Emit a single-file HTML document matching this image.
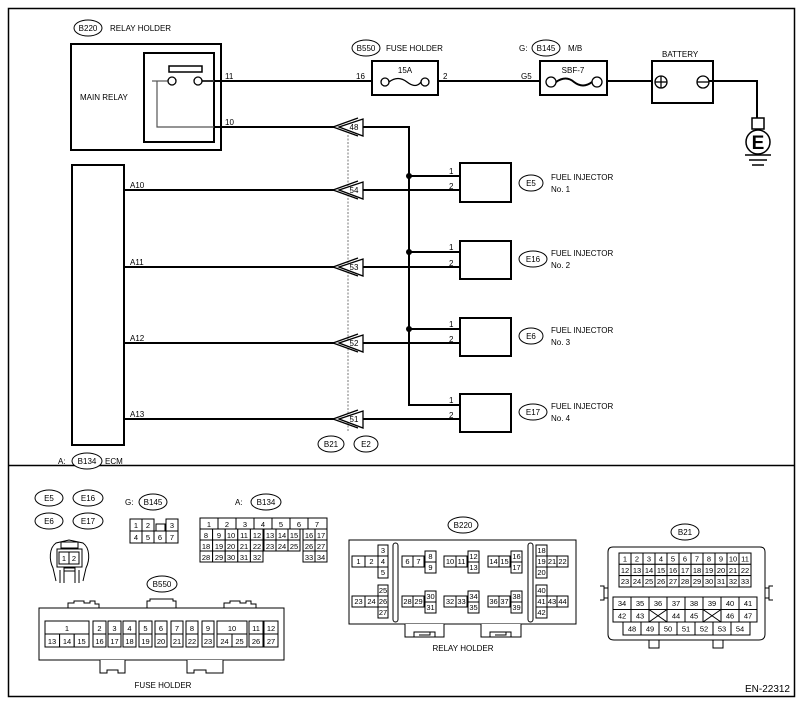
<!DOCTYPE html>
<html><head><meta charset="utf-8"><style>
html,body{margin:0;padding:0;background:#fff}
svg{display:block}
text{font-family:"Liberation Sans",Arial,sans-serif;fill:#000}
.s{font-size:8px}
.g{font-size:7.5px;text-anchor:middle}
.c rect{fill:#fff;stroke:#000;stroke-width:1}
</style></head><body>
<svg width="803" height="704" viewBox="0 0 803 704" xmlns="http://www.w3.org/2000/svg">
<rect x="8.5" y="8.5" width="786" height="688" fill="none" stroke="#000" stroke-width="1.5"/>
<line x1="8" y1="465.5" x2="795" y2="465.5" stroke="#000" stroke-width="1.5"/>

<g fill="none" stroke="#000" stroke-width="2">
<!-- main relay -->
<rect x="71" y="44" width="150" height="106"/>
<rect x="144" y="53" width="70" height="89"/>
<rect x="169" y="66" width="33" height="6" stroke-width="1.5"/>
<!-- wires -->
<line x1="202" y1="81" x2="372" y2="81"/>
<line x1="438" y1="81" x2="540" y2="81"/>
<line x1="607" y1="81" x2="652" y2="81"/>
<polyline points="707,81 757,81 757,118"/>
<line x1="214" y1="127" x2="335" y2="127"/>
<polyline points="363,127 409,127 409,405 460,405"/>
<line x1="409" y1="176" x2="460" y2="176"/>
<line x1="409" y1="252" x2="460" y2="252"/>
<line x1="409" y1="329" x2="460" y2="329"/>
<line x1="124" y1="190" x2="335" y2="190"/><line x1="363" y1="190" x2="460" y2="190"/>
<line x1="124" y1="267" x2="335" y2="267"/><line x1="363" y1="267" x2="460" y2="267"/>
<line x1="124" y1="343" x2="335" y2="343"/><line x1="363" y1="343" x2="460" y2="343"/>
<line x1="124" y1="419" x2="335" y2="419"/><line x1="363" y1="419" x2="460" y2="419"/>
<!-- fuse boxes -->
<rect x="372" y="61" width="66" height="34"/>
<rect x="540" y="61" width="67" height="34"/>
<rect x="652" y="61" width="61" height="42"/>
<!-- ECM -->
<rect x="72" y="165" width="52" height="280"/>
<!-- injectors -->
<rect x="460" y="163" width="51" height="39"/>
<rect x="460" y="241" width="51" height="38"/>
<rect x="460" y="318" width="51" height="38"/>
<rect x="460" y="394" width="51" height="38"/>
</g>
<polyline points="157,81 157,127 214,127" fill="none" stroke="#555" stroke-width="1.2"/>
<line x1="152" y1="81" x2="168" y2="81" stroke="#555" stroke-width="1.2"/>
<line x1="202" y1="81" x2="214" y2="81" stroke="#555" stroke-width="1.2"/>
<g fill="#fff" stroke="#000" stroke-width="1.3">
<circle cx="172" cy="81" r="4"/><circle cx="198" cy="81" r="4"/>
<circle cx="385" cy="82" r="4"/><circle cx="425" cy="82" r="4"/>
<circle cx="551" cy="82" r="5"/><circle cx="597" cy="82" r="5"/>
<circle cx="661" cy="82" r="6"/><circle cx="703" cy="82" r="6"/>
</g>
<path d="M389,82 q9,-7 18,0 q9,7 14,0" fill="none" stroke="#000" stroke-width="1.3"/>
<path d="M556,82 q10,-7 18,0 q9,7 18,0" fill="none" stroke="#000" stroke-width="2"/>
<line x1="655" y1="82" x2="667" y2="82" stroke="#000" stroke-width="1.3"/><line x1="661" y1="76" x2="661" y2="88" stroke="#000" stroke-width="1.3"/>
<line x1="697" y1="82" x2="709" y2="82" stroke="#000" stroke-width="1.3"/>
<!-- ground -->
<rect x="752" y="118" width="12" height="11" fill="#fff" stroke="#000" stroke-width="1.5"/>
<circle cx="758" cy="142" r="12" fill="#fff" stroke="#000" stroke-width="1.5"/>
<text x="758" y="149" font-size="19" font-weight="bold" text-anchor="middle">E</text>
<g stroke="#000" stroke-width="1.5"><line x1="745" y1="155" x2="771" y2="155"/><line x1="749" y1="160" x2="767" y2="160"/><line x1="752" y1="165" x2="764" y2="165"/></g>
<!-- dots -->
<g fill="#000"><circle cx="409" cy="176" r="3"/><circle cx="409" cy="252" r="3"/><circle cx="409" cy="329" r="3"/></g>
<!-- dashed -->
<line x1="348" y1="135" x2="348" y2="432" stroke="#777" stroke-width="1" stroke-dasharray="2,1.5"/>
<!-- chevrons -->
<g fill="#fff" stroke="#000" stroke-width="1.3">
<g transform="translate(0,127)"><polyline points="358,-9 333,0 358,9" fill="none"/><polygon points="339,0 363,-8 363,9"/></g>
<g transform="translate(0,190)"><polyline points="358,-9 333,0 358,9" fill="none"/><polygon points="339,0 363,-8 363,9"/></g>
<g transform="translate(0,267)"><polyline points="358,-9 333,0 358,9" fill="none"/><polygon points="339,0 363,-8 363,9"/></g>
<g transform="translate(0,343)"><polyline points="358,-9 333,0 358,9" fill="none"/><polygon points="339,0 363,-8 363,9"/></g>
<g transform="translate(0,419)"><polyline points="358,-9 333,0 358,9" fill="none"/><polygon points="339,0 363,-8 363,9"/></g>
</g>
<g class="s" font-size="8">
<text x="354" y="130" text-anchor="middle">48</text>
<text x="354" y="193" text-anchor="middle">54</text>
<text x="354" y="270" text-anchor="middle">53</text>
<text x="354" y="346" text-anchor="middle">52</text>
<text x="354" y="422" text-anchor="middle">51</text>
</g>
<!-- ovals -->
<g fill="#fff" stroke="#000" stroke-width="1">
<ellipse cx="88" cy="28" rx="14" ry="8"/>
<ellipse cx="366" cy="48" rx="14" ry="8"/>
<ellipse cx="546" cy="48" rx="14" ry="8"/>
<ellipse cx="531" cy="183" rx="12" ry="8"/>
<ellipse cx="533" cy="259" rx="14" ry="8"/>
<ellipse cx="531" cy="336" rx="12" ry="8"/>
<ellipse cx="533" cy="412" rx="14" ry="8"/>
<ellipse cx="87" cy="461" rx="15" ry="8"/>
<ellipse cx="331" cy="444" rx="13" ry="8"/>
<ellipse cx="366" cy="444" rx="12" ry="8"/>
</g>
<g class="s">
<text x="88" y="31" text-anchor="middle">B220</text><text x="110" y="31">RELAY HOLDER</text>
<text x="366" y="51" text-anchor="middle">B550</text><text x="386" y="51">FUSE HOLDER</text>
<text x="519" y="51">G:</text><text x="546" y="51" text-anchor="middle">B145</text><text x="568" y="51">M/B</text>
<text x="662" y="57">BATTERY</text>
<text x="405" y="73" text-anchor="middle">15A</text>
<text x="573" y="73" text-anchor="middle">SBF-7</text>
<text x="80" y="100">MAIN RELAY</text>
<text x="225" y="79">11</text><text x="356" y="79">16</text><text x="443" y="79">2</text><text x="521" y="79">G5</text>
<text x="225" y="125">10</text>
<text x="130" y="188">A10</text><text x="130" y="265">A11</text><text x="130" y="341">A12</text><text x="130" y="417">A13</text>
<text x="449" y="174">1</text><text x="449" y="189">2</text>
<text x="449" y="250">1</text><text x="449" y="266">2</text>
<text x="449" y="327">1</text><text x="449" y="342">2</text>
<text x="449" y="403">1</text><text x="449" y="418">2</text>
<text x="531" y="186" text-anchor="middle">E5</text><text x="551" y="180">FUEL INJECTOR</text><text x="551" y="192">No. 1</text>
<text x="533" y="262" text-anchor="middle">E16</text><text x="551" y="256">FUEL INJECTOR</text><text x="551" y="268">No. 2</text>
<text x="531" y="339" text-anchor="middle">E6</text><text x="551" y="333">FUEL INJECTOR</text><text x="551" y="345">No. 3</text>
<text x="533" y="415" text-anchor="middle">E17</text><text x="551" y="409">FUEL INJECTOR</text><text x="551" y="421">No. 4</text>
<text x="58" y="464">A:</text><text x="87" y="464" text-anchor="middle">B134</text><text x="105" y="464">ECM</text>
<text x="331" y="447" text-anchor="middle">B21</text><text x="366" y="447" text-anchor="middle">E2</text>
</g>

<!-- ===== bottom ===== -->
<g fill="#fff" stroke="#000" stroke-width="1">
<ellipse cx="49" cy="498" rx="14" ry="8"/><ellipse cx="88" cy="498" rx="15" ry="8"/>
<ellipse cx="49" cy="521" rx="14" ry="8"/><ellipse cx="88" cy="521" rx="15" ry="8"/>
<ellipse cx="153" cy="502" rx="14" ry="8"/>
<ellipse cx="266" cy="502" rx="15" ry="8"/>
<ellipse cx="162" cy="584" rx="15" ry="8"/>
<ellipse cx="463" cy="525" rx="15" ry="8"/>
<ellipse cx="685" cy="532" rx="14" ry="8"/>
</g>
<g class="s">
<text x="49" y="501" text-anchor="middle">E5</text><text x="88" y="501" text-anchor="middle">E16</text>
<text x="49" y="524" text-anchor="middle">E6</text><text x="88" y="524" text-anchor="middle">E17</text>
<text x="125" y="505">G:</text><text x="153" y="505" text-anchor="middle">B145</text>
<text x="235" y="505">A:</text><text x="266" y="505" text-anchor="middle">B134</text>
<text x="162" y="587" text-anchor="middle">B550</text>
<text x="463" y="528" text-anchor="middle">B220</text>
<text x="685" y="535" text-anchor="middle">B21</text>
<text x="163" y="688" text-anchor="middle">FUSE HOLDER</text>
<text x="463" y="651" text-anchor="middle">RELAY HOLDER</text>
<text x="790" y="692" text-anchor="end" font-size="10">EN-22312</text>
</g>

<!-- injector connector -->
<g fill="none" stroke="#000" stroke-width="1">
<path d="M56,581 L53,568 C49,560 49,548 56,543 L69,540 L83,543 C90,548 90,560 86,568 L83,581"/>
<path d="M60,583 L60,570 M79,583 L79,570 M64,583 L64,570 M75,583 L75,570"/>
<rect x="61" y="542" width="17" height="6"/>
<rect x="57" y="549" width="25" height="18"/>
<rect x="64" y="568" width="11" height="3"/>
</g>
<g class="c"><rect x="59" y="552" width="10" height="12"/><rect x="69" y="552" width="10" height="12"/></g>
<text class="g" x="64" y="561">1</text><text class="g" x="74" y="561">2</text>

<!-- B145 grid -->
<g class="c">
<rect x="130" y="519" width="12" height="12"/><rect x="142" y="519" width="12" height="12"/><rect x="166" y="519" width="12" height="12"/>
<rect x="156" y="524" width="9" height="7"/>
<rect x="130" y="531" width="12" height="12"/><rect x="142" y="531" width="12" height="12"/><rect x="154" y="531" width="12" height="12"/><rect x="166" y="531" width="12" height="12"/>
</g>
<g class="g"><text x="136" y="528">1</text><text x="148" y="528">2</text><text x="172" y="528">3</text>
<text x="136" y="540">4</text><text x="148" y="540">5</text><text x="160" y="540">6</text><text x="172" y="540">7</text></g>

<!-- B134 grid -->
<g class="c">
<rect x="200" y="518" width="18" height="11"/><rect x="218" y="518" width="18" height="11"/><rect x="236" y="518" width="18" height="11"/><rect x="254" y="518" width="18" height="11"/><rect x="272" y="518" width="18" height="11"/><rect x="290" y="518" width="18" height="11"/><rect x="308" y="518" width="19" height="11"/>
<rect x="200" y="529" width="12.6" height="11"/><rect x="212.6" y="529" width="12.6" height="11"/><rect x="225.2" y="529" width="12.6" height="11"/><rect x="237.8" y="529" width="12.6" height="11"/><rect x="250.4" y="529" width="12.6" height="11"/>
<rect x="264" y="529" width="12" height="11"/><rect x="276" y="529" width="12" height="11"/><rect x="288" y="529" width="12" height="11"/>
<rect x="303" y="529" width="12" height="11"/><rect x="315" y="529" width="12" height="11"/>
<rect x="200" y="540" width="12.6" height="11"/><rect x="212.6" y="540" width="12.6" height="11"/><rect x="225.2" y="540" width="12.6" height="11"/><rect x="237.8" y="540" width="12.6" height="11"/><rect x="250.4" y="540" width="12.6" height="11"/>
<rect x="264" y="540" width="12" height="11"/><rect x="276" y="540" width="12" height="11"/><rect x="288" y="540" width="12" height="11"/>
<rect x="303" y="540" width="12" height="11"/><rect x="315" y="540" width="12" height="11"/>
<rect x="200" y="551" width="12.6" height="11"/><rect x="212.6" y="551" width="12.6" height="11"/><rect x="225.2" y="551" width="12.6" height="11"/><rect x="237.8" y="551" width="12.6" height="11"/><rect x="250.4" y="551" width="12.6" height="11"/>
<rect x="303" y="551" width="12" height="11"/><rect x="315" y="551" width="12" height="11"/>
</g>
<g class="g">
<text x="209" y="527">1</text><text x="227" y="527">2</text><text x="245" y="527">3</text><text x="263" y="527">4</text><text x="281" y="527">5</text><text x="299" y="527">6</text><text x="317" y="527">7</text>
<text x="206" y="538">8</text><text x="219" y="538">9</text><text x="231" y="538">10</text><text x="244" y="538">11</text><text x="257" y="538">12</text><text x="270" y="538">13</text><text x="282" y="538">14</text><text x="294" y="538">15</text><text x="309" y="538">16</text><text x="321" y="538">17</text>
<text x="206" y="549">18</text><text x="219" y="549">19</text><text x="231" y="549">20</text><text x="244" y="549">21</text><text x="257" y="549">22</text><text x="270" y="549">23</text><text x="282" y="549">24</text><text x="294" y="549">25</text><text x="309" y="549">26</text><text x="321" y="549">27</text>
<text x="206" y="560">28</text><text x="219" y="560">29</text><text x="231" y="560">30</text><text x="244" y="560">31</text><text x="257" y="560">32</text><text x="309" y="560">33</text><text x="321" y="560">34</text>
</g>

<!-- fuse holder B550 -->
<g fill="#fff" stroke="#000" stroke-width="1">
<path d="M68,608 L68,603 L74,603 L74,601 L84,601 L84,603 L90,603 L90,601 L95,601 L95,604 L99,604 L99,608"/>
<path d="M147,608 L147,601 L150,601 L150,599 L173,599 L173,601 L176,601 L176,608"/>
<path d="M224,608 L224,603 L230,603 L230,601 L240,601 L240,603 L246,603 L246,601 L251,601 L251,604 L256,604 L256,608"/>
<rect x="39" y="608" width="245" height="52"/>
<path d="M100,660 L100,673 L107,673 L107,670 L118,670 L118,673 L125,673 L125,660"/>
<path d="M187,660 L187,673 L194,673 L194,670 L206,670 L206,673 L223,673 L223,660"/>
</g>
<g class="c">
<rect x="45" y="621" width="44" height="13"/>
<rect x="45" y="634" width="14.6" height="13"/><rect x="59.6" y="634" width="14.6" height="13"/><rect x="74.2" y="634" width="14.8" height="13"/>
<rect x="93" y="621" width="13" height="13"/><rect x="93" y="634" width="13" height="13"/>
<rect x="108" y="621" width="13" height="13"/><rect x="108" y="634" width="13" height="13"/>
<rect x="123" y="621" width="13" height="13"/><rect x="123" y="634" width="13" height="13"/>
<rect x="139" y="621" width="13" height="13"/><rect x="139" y="634" width="13" height="13"/>
<rect x="155" y="621" width="12" height="13"/><rect x="155" y="634" width="12" height="13"/>
<rect x="171" y="621" width="12" height="13"/><rect x="171" y="634" width="12" height="13"/>
<rect x="186" y="621" width="12" height="13"/><rect x="186" y="634" width="12" height="13"/>
<rect x="202" y="621" width="12" height="13"/><rect x="202" y="634" width="12" height="13"/>
<rect x="217" y="621" width="30" height="13"/><rect x="217" y="634" width="15" height="13"/><rect x="232" y="634" width="15" height="13"/>
<rect x="249" y="621" width="14" height="13"/><rect x="249" y="634" width="14" height="13"/>
<rect x="264" y="621" width="14" height="13"/><rect x="264" y="634" width="14" height="13"/>
</g>
<g class="g">
<text x="67" y="631">1</text><text x="99.5" y="631">2</text><text x="114.5" y="631">3</text><text x="129.5" y="631">4</text><text x="145.5" y="631">5</text><text x="161" y="631">6</text><text x="177" y="631">7</text><text x="192" y="631">8</text><text x="208" y="631">9</text><text x="232" y="631">10</text><text x="256" y="631">11</text><text x="271" y="631">12</text>
<text x="52" y="644">13</text><text x="67" y="644">14</text><text x="81.5" y="644">15</text><text x="99.5" y="644">16</text><text x="114.5" y="644">17</text><text x="129.5" y="644">18</text><text x="145.5" y="644">19</text><text x="161" y="644">20</text><text x="177" y="644">21</text><text x="192" y="644">22</text><text x="208" y="644">23</text><text x="224.5" y="644">24</text><text x="239.5" y="644">25</text><text x="256" y="644">26</text><text x="271" y="644">27</text>
</g>

<!-- relay holder B220 -->
<g fill="#fff" stroke="#000" stroke-width="1">
<rect x="349" y="540" width="227" height="84"/>
<rect x="393" y="543" width="5" height="79" rx="2.5"/>
<rect x="528" y="543" width="5" height="79" rx="2.5"/>
<path d="M405,624 L405,637 L444,637 L444,624 M414,637 L414,632 L435,632 L435,637 M419,632 L430,632 L430,635 L419,635"/>
<path d="M481,624 L481,637 L521,637 L521,624 M490,637 L490,632 L511,632 L511,637 M495,632 L506,632 L506,635 L495,635"/>
</g>
<g class="c">
<rect x="378" y="545" width="10" height="11"/><rect x="352" y="556" width="13" height="11"/><rect x="365" y="556" width="13" height="11"/><rect x="378" y="556" width="10" height="11"/><rect x="378" y="567" width="10" height="11"/>
<rect x="378" y="585" width="10" height="11"/><rect x="352" y="596" width="13" height="11"/><rect x="365" y="596" width="13" height="11"/><rect x="378" y="596" width="10" height="11"/><rect x="378" y="607" width="10" height="11"/>
<rect x="402" y="556" width="11" height="11"/><rect x="413" y="556" width="11" height="11"/><rect x="425" y="551" width="11" height="11"/><rect x="425" y="562" width="11" height="11"/>
<rect x="402" y="596" width="11" height="11"/><rect x="413" y="596" width="11" height="11"/><rect x="425" y="591" width="11" height="11"/><rect x="425" y="602" width="11" height="11"/>
<rect x="444" y="556" width="12" height="11"/><rect x="456" y="556" width="11" height="11"/><rect x="468" y="551" width="11" height="11"/><rect x="468" y="562" width="11" height="11"/>
<rect x="444" y="596" width="12" height="11"/><rect x="456" y="596" width="11" height="11"/><rect x="468" y="591" width="11" height="11"/><rect x="468" y="602" width="11" height="11"/>
<rect x="488" y="556" width="11" height="11"/><rect x="499" y="556" width="11" height="11"/><rect x="511" y="551" width="11" height="11"/><rect x="511" y="562" width="11" height="11"/>
<rect x="488" y="596" width="11" height="11"/><rect x="499" y="596" width="11" height="11"/><rect x="511" y="591" width="11" height="11"/><rect x="511" y="602" width="11" height="11"/>
<rect x="536" y="545" width="11" height="11"/><rect x="536" y="556" width="11" height="11"/><rect x="547" y="556" width="10" height="11"/><rect x="557" y="556" width="11" height="11"/><rect x="536" y="567" width="11" height="11"/>
<rect x="536" y="585" width="11" height="11"/><rect x="536" y="596" width="11" height="11"/><rect x="547" y="596" width="10" height="11"/><rect x="557" y="596" width="11" height="11"/><rect x="536" y="607" width="11" height="11"/>
</g>
<g class="g" font-size="7">
<text x="383" y="553">3</text><text x="358.5" y="564">1</text><text x="371.5" y="564">2</text><text x="383" y="564">4</text><text x="383" y="575">5</text>
<text x="383" y="593">25</text><text x="358.5" y="604">23</text><text x="371.5" y="604">24</text><text x="383" y="604">26</text><text x="383" y="615">27</text>
<text x="407.5" y="564">6</text><text x="418.5" y="564">7</text><text x="430.5" y="559">8</text><text x="430.5" y="570">9</text>
<text x="407.5" y="604">28</text><text x="418.5" y="604">29</text><text x="430.5" y="599">30</text><text x="430.5" y="610">31</text>
<text x="450" y="564">10</text><text x="461.5" y="564">11</text><text x="473.5" y="559">12</text><text x="473.5" y="570">13</text>
<text x="450" y="604">32</text><text x="461.5" y="604">33</text><text x="473.5" y="599">34</text><text x="473.5" y="610">35</text>
<text x="493.5" y="564">14</text><text x="504.5" y="564">15</text><text x="516.5" y="559">16</text><text x="516.5" y="570">17</text>
<text x="493.5" y="604">36</text><text x="504.5" y="604">37</text><text x="516.5" y="599">38</text><text x="516.5" y="610">39</text>
<text x="541.5" y="553">18</text><text x="541.5" y="564">19</text><text x="552" y="564">21</text><text x="562.5" y="564">22</text><text x="541.5" y="575">20</text>
<text x="541.5" y="593">40</text><text x="541.5" y="604">41</text><text x="552" y="604">43</text><text x="562.5" y="604">44</text><text x="541.5" y="615">42</text>
</g>

<!-- B21 -->
<g fill="#fff" stroke="#000" stroke-width="1">
<path d="M600,586 L604,586 L604,600 L600,600 M608,588 L604,588 M608,598 L604,598"/>
<path d="M773,586 L769,586 L769,600 L773,600 M765,588 L769,588 M765,598 L769,598"/>
<path d="M649,639 L649,648 L659,648 L659,639 M713,639 L713,648 L723,648 L723,639"/>
<path d="M613,547 L760,547 Q765,547 765,552 L765,634 Q765,640 759,640 L614,640 Q608,640 608,634 L608,552 Q608,547 613,547 Z"/>
</g>
<g class="c">
<rect x="619" y="553" width="132" height="11.3"/><rect x="619" y="564.3" width="132" height="11.3"/><rect x="619" y="575.6" width="132" height="11.4"/>
<rect x="613" y="597" width="144" height="12.5"/><rect x="613" y="609.5" width="144" height="12.5"/>
<rect x="623" y="622" width="127" height="13"/>
</g>
<g stroke="#000" stroke-width="1">
<path d="M631,553V587M643,553V587M655,553V587M667,553V587M679,553V587M691,553V587M703,553V587M715,553V587M727,553V587M739,553V587"/>
<path d="M631,597V622M649,597V622M667,597V622M685,597V622M703,597V622M721,597V622M739,597V622"/>
<path d="M641,622V635M659,622V635M677,622V635M695,622V635M713,622V635M731,622V635"/>
<path d="M649,609.5L667,622M667,609.5L649,622M703,609.5L721,622M721,609.5L703,622"/>
</g>
<g class="g" font-size="7">
<text x="625" y="561.5">1</text><text x="637" y="561.5">2</text><text x="649" y="561.5">3</text><text x="661" y="561.5">4</text><text x="673" y="561.5">5</text><text x="685" y="561.5">6</text><text x="697" y="561.5">7</text><text x="709" y="561.5">8</text><text x="721" y="561.5">9</text><text x="733" y="561.5">10</text><text x="745" y="561.5">11</text>
<text x="625" y="573">12</text><text x="637" y="573">13</text><text x="649" y="573">14</text><text x="661" y="573">15</text><text x="673" y="573">16</text><text x="685" y="573">17</text><text x="697" y="573">18</text><text x="709" y="573">19</text><text x="721" y="573">20</text><text x="733" y="573">21</text><text x="745" y="573">22</text>
<text x="625" y="584">23</text><text x="637" y="584">24</text><text x="649" y="584">25</text><text x="661" y="584">26</text><text x="673" y="584">27</text><text x="685" y="584">28</text><text x="697" y="584">29</text><text x="709" y="584">30</text><text x="721" y="584">31</text><text x="733" y="584">32</text><text x="745" y="584">33</text>
<text x="622" y="606">34</text><text x="640" y="606">35</text><text x="658" y="606">36</text><text x="676" y="606">37</text><text x="694" y="606">38</text><text x="712" y="606">39</text><text x="730" y="606">40</text><text x="748" y="606">41</text>
<text x="622" y="618.5">42</text><text x="640" y="618.5">43</text><text x="676" y="618.5">44</text><text x="694" y="618.5">45</text><text x="730" y="618.5">46</text><text x="748" y="618.5">47</text>
<text x="632" y="631.5">48</text><text x="650" y="631.5">49</text><text x="668" y="631.5">50</text><text x="686" y="631.5">51</text><text x="704" y="631.5">52</text><text x="722" y="631.5">53</text><text x="740" y="631.5">54</text>
</g>
</svg>
</body></html>
